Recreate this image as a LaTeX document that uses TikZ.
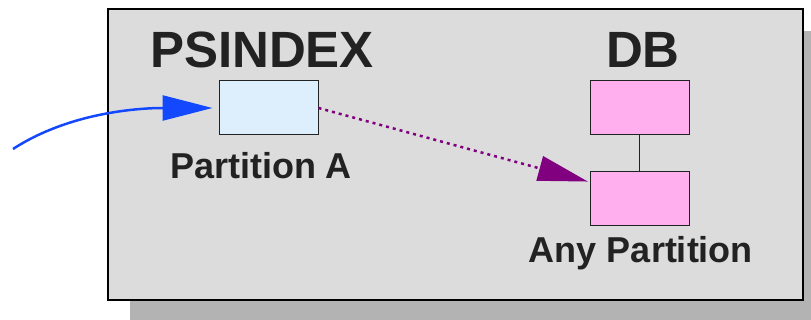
\documentclass[tikz,border=0pt]{standalone}
\usepackage{fontspec}
\setmainfont{Liberation Sans}
\usetikzlibrary{arrows.meta}
\definecolor{panelgray}{HTML}{DCDCDC}
\definecolor{shadowgray}{HTML}{B3B3B3}
\definecolor{idxfill}{HTML}{DDEEFD}
\definecolor{dbfill}{HTML}{FFAEEE}
\definecolor{inkgray}{HTML}{222222}
\definecolor{flowblue}{HTML}{1448FF}
\definecolor{flowpurple}{HTML}{800080}
\begin{document}
\begin{tikzpicture}[x=1pt,y=-1pt,
  partbox/.style={draw=inkgray,line width=1pt,minimum width=99pt,minimum height=54pt,inner sep=0pt},
  title/.style={text=inkgray,font=\bfseries\fontsize{51}{51}\selectfont,anchor=base},
  caption/.style={text=inkgray,font=\bfseries\fontsize{36}{36}\selectfont,anchor=base},
  entry/.style={draw=flowblue,line width=2.5pt,-{Triangle[length=50pt,width=25pt]}},
  lookup/.style={draw=flowpurple,line width=2.5pt,dash pattern=on 3pt off 4pt,-{Triangle[length=50pt,width=25pt,sep]}}]
  \useasboundingbox (0,0) rectangle (811,320);
  % panel with drop shadow
  \fill[shadowgray] (130,31) rectangle (811,320);
  \draw[fill=panelgray,line width=2.5pt] (108,9) rectangle (803,300);
  % headings
  \node[title] (psindex) at (262,68) {PSINDEX};
  \node[title] (db) at (643,68) {DB};
  % partitions
  \node[partbox,fill=idxfill] (pa) at (268.5,108) {};
  \node[partbox,fill=dbfill] (dbtop) at (639.5,108) {};
  \node[partbox,fill=dbfill] (dbany) at (639.5,199) {};
  \draw[inkgray,line width=1pt] (dbtop.south) -- (dbany.north);
  % captions
  \node[caption] (capa) at (261,179) {Partition A};
  \node[caption] (capany) at (641,263) {Any Partition};
  % connectors
  \coordinate (caller) at (13,149);
  \draw[entry,shorten >=6pt] (caller) .. controls (70,112) and (140,108) .. (pa.west);
  \draw[lookup] (pa.east) -- ([yshift=17pt]dbany.west);
\end{tikzpicture}
\end{document}
